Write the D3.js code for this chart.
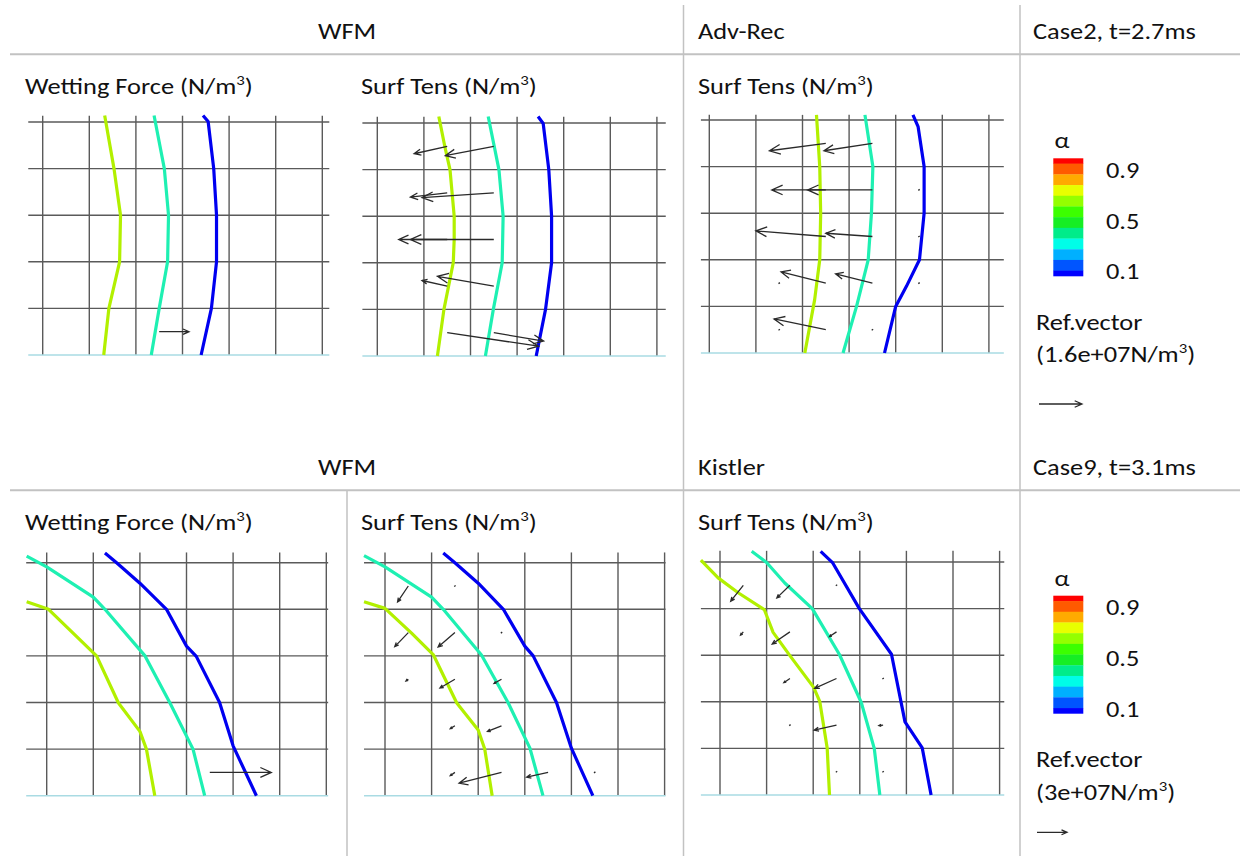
<!DOCTYPE html>
<html lang="en">
<head>
<meta charset="UTF-8">
<title>Wetting force and surface tension vectors</title>
<script src="https://d3js.org/d3.v7.min.js"></script>
<style>
  body { margin: 0; background: #fff; }
  svg text { font-family: Carlito, Calibri, "Open Sans", sans-serif; font-size: 22px; fill: #111; }
  .grid line { stroke: #5a5a5a; stroke-width: 1.4px; }
  .grid line.wall { stroke: #a9dbe3; stroke-width: 1.5px; }
  .iso { fill: none; stroke-width: 3.2px; stroke-linejoin: round; }
  .vec { fill: none; stroke: #2a2a2a; stroke-width: 1.3px; }
  .frame { stroke: #c2c2c2; }
</style>
</head>
<body>
<svg width="1240" height="856"></svg>
<script>
// ---- headers ----
const methodHeads = [["WFM", "Adv-Rec", "Case2, t=2.7ms"], ["WFM", "Kistler", "Case9, t=3.1ms"]];
const panelTitles = ["Wetting Force", "Surf Tens", "Surf Tens"];
const refLabels = ["(1.6e+07N/m", "(3e+07N/m"];

// ---- alpha colour bar ----
const alphaTicks = [0.9, 0.5, 0.1];
const alphaColors = ["#ff0000", "#ff5a00", "#ffaa00", "#e8ff00", "#94ff00", "#3cff00",
                     "#16ee24", "#00ec8a", "#00fde8", "#00b0ff", "#0055ff", "#0000ff"];

// iso-line colours (high, mid, low alpha)
const isoColors = ["#b2f000", "#1ef0b2", "#0000f0"];

// ---- iso-lines, in grid cells (x from first column, y up from the wall) ----
const tlIso = [
  [[1.33, 5.14], [1.53, 4], [1.67, 3], [1.65, 2], [1.42, 1], [1.31, 0]],
  [[2.39, 5.14], [2.61, 4], [2.70, 3], [2.68, 2], [2.50, 1], [2.33, 0]],
  [[3.44, 5.14], [3.55, 5.01], [3.67, 4], [3.73, 3], [3.73, 2], [3.62, 1], [3.40, 0]]
];
const tmIso = [
  [[1.32, 5.14], [1.45, 4.49], [1.56, 4], [1.65, 3], [1.65, 2.5], [1.63, 2], [1.43, 1], [1.29, 0]],
  [[2.38, 5.14], [2.61, 4], [2.70, 3], [2.68, 2], [2.49, 1], [2.32, 0]],
  [[3.45, 5.14], [3.56, 4.99], [3.68, 4], [3.74, 3], [3.74, 2], [3.61, 1], [3.41, 0]]
];
const trIso = [
  [[2.30, 5.11], [2.37, 4], [2.39, 3], [2.37, 2], [2.26, 1.14], [2.05, 0]],
  [[3.34, 5.11], [3.51, 4], [3.48, 3], [3.41, 2], [3.16, 1], [2.87, 0]],
  [[4.37, 5.11], [4.48, 4.86], [4.61, 4], [4.61, 3], [4.51, 2], [4.23, 1.43], [4.0, 1], [3.76, 0]]
];
const blIso = [
  [[-0.43, 4.16], [0.04, 4], [1.07, 3], [1.54, 1.99], [2.0, 1.38], [2.14, 1], [2.32, 0]],
  [[-0.43, 5.14], [0, 4.91], [1.0, 4.26], [1.25, 4], [2.11, 3], [2.64, 2], [3.14, 1], [3.39, 0]],
  [[1.25, 5.21], [1.5, 5], [2.0, 4.56], [2.57, 4], [3.0, 3.21], [3.21, 2.99], [3.71, 2], [4.0, 1.07], [4.5, 0]]
];
const bmIso = [
  [[-0.45, 4.16], [0, 4.02], [0.57, 3.49], [1.04, 3.02], [1.54, 1.99], [2.0, 1.41], [2.14, 1], [2.3, 0]],
  [[-0.45, 5.15], [0, 4.91], [1.0, 4.26], [1.25, 4], [2.07, 3.02], [2.64, 2], [3.11, 1.02], [3.39, 0]],
  [[1.25, 5.21], [1.5, 5], [2.0, 4.56], [2.54, 4], [3.0, 3.21], [3.18, 3], [3.68, 2], [4.0, 1.02], [4.46, 0]]
];
const brIso = [
  [[-0.41, 5.04], [-0.04, 4.66], [0.39, 4.34], [0.95, 3.98], [1.14, 3.49], [1.5, 2.99], [2.01, 2.31], [2.14, 2.01], [2.3, 1.01], [2.35, 0]],
  [[0.68, 5.23], [1.0, 4.99], [1.39, 4.55], [1.98, 4], [2.56, 3.02], [3.03, 1.99], [3.31, 1.0], [3.43, 0]],
  [[2.16, 5.23], [2.42, 4.98], [2.99, 4], [3.68, 3.02], [3.97, 1.57], [4.34, 1.01], [4.53, 0]]
];

// ---- force vectors: [x, y, dx, dy] in grid cells ----
const tlVec = [[2.5, 0.5, 0.64, 0]];
const tmVec = [
  [2.5, 4.5, -1.04, -0.2], [1.5, 4.5, -0.71, -0.16],
  [2.5, 3.5, -1.54, -0.1], [1.5, 3.5, -0.79, -0.09],
  [2.5, 2.5, -1.79, 0], [1.5, 2.5, -1.04, 0],
  [2.5, 1.5, -1.21, 0.21], [1.5, 1.5, -0.54, 0.12],
  [2.5, 0.5, 1.07, -0.18], [1.5, 0.5, 1.96, -0.29]
];
const trVec = [
  [3.5, 4.5, -1.04, -0.16], [2.5, 4.5, -1.21, -0.16],
  [3.5, 3.5, -1.39, 0], [2.5, 3.5, -1.16, 0],
  [3.5, 2.5, -1.0, 0.07], [2.5, 2.5, -1.5, 0.12],
  [3.5, 1.5, -0.79, 0.2], [2.5, 1.5, -0.96, 0.24],
  [2.5, 0.5, -1.11, 0.23],
  [1.5, 1.5, -0.02, 0.02], [1.5, 0.5, -0.01, -0.02], [4.5, 3.5, -0.01, 0],
  [4.5, 2.5, -0.01, 0], [4.5, 1.5, -0.01, 0], [3.5, 0.5, -0.01, 0]
];
const blVec = [[3.5, 0.5, 1.32, 0]];
const bmVec = [
  [0.5, 4.5, -0.23, -0.34], [1.5, 4.5, -0.01, 0.01],
  [0.5, 3.5, -0.29, -0.3], [1.5, 3.5, -0.36, -0.31], [2.5, 3.5, -0.01, 0.01],
  [0.5, 2.5, -0.05, -0.04], [1.5, 2.5, -0.32, -0.19], [2.5, 2.5, -0.16, -0.09],
  [1.5, 1.5, -0.1, -0.06], [2.5, 1.5, -0.3, -0.12],
  [1.5, 0.5, -0.1, -0.07], [2.5, 0.5, -0.91, -0.23], [3.5, 0.5, -0.46, -0.1], [4.5, 0.5, -0.01, 0.01]
];
const brVec = [
  [0.5, 4.5, -0.27, -0.34], [1.5, 4.5, -0.28, -0.27], [2.5, 4.5, -0.01, 0.01],
  [0.5, 3.5, -0.06, -0.07], [1.5, 3.5, -0.38, -0.26], [2.5, 3.5, -0.15, -0.1],
  [1.5, 2.5, -0.13, -0.09], [2.5, 2.5, -0.47, -0.21], [3.5, 2.5, -0.01, 0.01],
  [1.5, 1.5, -0.01, 0.01], [2.5, 1.5, -0.48, -0.11], [3.5, 1.5, -0.09, -0.01],
  [2.5, 0.5, -0.01, 0.01], [3.5, 0.5, -0.01, 0.01]
];

// ---- layout ----
const cell = 46.6;
const rowShift = 436;   // second table row offset
const stretch = 1.2;    // the screenshot text is wider than the font
const panels = [
  { x0: 42.7, y0: 122, l: -0.31, r: 6.15, t: 5.135, iso: tlIso, vec: tlVec },
  { x0: 377.3, y0: 123, l: -0.32, r: 6.19, t: 5.135, iso: tmIso, vec: tmVec },
  { x0: 709.3, y0: 120, l: -0.18, r: 6.32, t: 5.11, iso: trIso, vec: trVec },
  { x0: 46.7, y0: 562.7, l: -0.44, r: 6.04, t: 5.22, iso: blIso, vec: blVec },
  { x0: 385, y0: 562.7, l: -0.45, r: 6.02, t: 5.22, iso: bmIso, vec: bmVec },
  { x0: 720, y0: 562, l: -0.41, r: 6.1, t: 5.24, iso: brIso, vec: brVec }
];

const svg = d3.select("svg");

// table rules
const frame = svg.append("g").attr("class", "frame");
[54.3, 54.3 + rowShift].forEach(y =>
  frame.append("line").attr("x1", 10).attr("x2", 1240).attr("y1", y).attr("y2", y).attr("stroke-width", 2));
[[683.5, 5, 856], [1020, 5, 856], [347, 54.3 + rowShift, 856]].forEach(([x, a, b]) =>
  frame.append("line").attr("x1", x).attr("x2", x).attr("y1", a).attr("y2", b).attr("stroke-width", 1.5));

function label(g, x, y) {
  return g.append("text").attr("transform", `translate(${x},${y}) scale(${stretch},1)`);
}
// text with a superscript 3
function unitText(g, x, y, before, after) {
  const t = label(g, x, y);
  t.append("tspan").text(before);
  t.append("tspan").attr("dy", -9).style("font-size", "14px").text("3");
  t.append("tspan").attr("dy", 9).text(after);
  return t;
}

methodHeads.forEach((row, i) => {
  const dy = i * rowShift;
  label(svg, 347, 39.3 + dy).attr("text-anchor", "middle").text(row[0]);
  label(svg, 698, 39.3 + dy).text(row[1]);
  label(svg, 1033, 39.3 + dy).text(row[2]);
  [25, 361, 698].forEach((x, j) => unitText(svg, x, 94.3 + dy, panelTitles[j] + " (N/m", ")"));
});

function arrowPath(x1, y1, x2, y2, hMax) {
  const len = Math.hypot(x2 - x1, y2 - y1);
  if (len < 2) return `M${x1 - 0.7},${y1 + 0.5}L${x1 + 0.7},${y1 - 0.5}`;
  const h = Math.min(hMax || 12, Math.max(2.5, len * 0.22));
  const a = Math.atan2(y2 - y1, x2 - x1), w = 0.42;
  const p1 = [x2 - h * Math.cos(a - w), y2 - h * Math.sin(a - w)];
  const p2 = [x2 - h * Math.cos(a + w), y2 - h * Math.sin(a + w)];
  return `M${x1},${y1}L${x2},${y2}M${p1}L${x2},${y2}L${p2}`;
}

panels.forEach(p => {
  const x = d3.scaleLinear().domain([0, 6]).range([p.x0, p.x0 + 6 * cell]);
  const y = d3.scaleLinear().domain([0, 5]).range([p.y0 + 5 * cell, p.y0]);
  const g = svg.append("g");

  const grid = g.append("g").attr("class", "grid");
  grid.selectAll("line.v").data(d3.range(7)).join("line").attr("class", "v")
    .attr("x1", d => x(d)).attr("x2", d => x(d)).attr("y1", y(0)).attr("y2", y(p.t));
  grid.selectAll("line.h").data(d3.range(6)).join("line")
    .attr("class", d => d === 0 ? "h wall" : "h")
    .attr("x1", x(p.l)).attr("x2", x(p.r)).attr("y1", d => y(d)).attr("y2", d => y(d));

  const line = d3.line().x(d => x(d[0])).y(d => y(d[1]));
  g.selectAll("path.iso").data(p.iso).join("path").attr("class", "iso")
    .attr("stroke", (d, i) => isoColors[i]).attr("d", line);

  g.selectAll("path.vec").data(p.vec).join("path").attr("class", "vec")
    .attr("d", d => arrowPath(x(d[0]), y(d[1]), x(d[0] + d[2]), y(d[1] + d[3])));
});

// colour bar legends
const legends = [
  { top: 158.3, arrow: [1039, 1082], arrowY: 404, ref: refLabels[0] },
  { top: 158.3 + 437.4, arrow: [1037, 1067], arrowY: 832.3, ref: refLabels[1] }
];
const barH = 117.7;
legends.forEach((lg, i) => {
  const g = svg.append("g");
  const yb = d3.scaleLinear().domain([0, 11]).range([lg.top, lg.top + barH]);
  const edges = [0].concat(d3.range(alphaColors.length - 1).map(k => k + 0.5), [11]);
  g.selectAll("rect").data(alphaColors).join("rect")
    .attr("x", 1053.3).attr("width", 30)
    .attr("y", (d, k) => yb(edges[k])).attr("height", (d, k) => yb(edges[k + 1]) - yb(edges[k]) + 0.3)
    .attr("fill", d => d);
  label(g, 1062, lg.top - 10).attr("text-anchor", "middle").text("α");
  const yt = d3.scaleLinear().domain([0.1, 0.9]).range([lg.top + barH - 4.5, lg.top + 11.8]);
  alphaTicks.forEach(v =>
    label(g, 1106, yt(v)).attr("dy", "0.35em").text(d3.format(".1f")(v)));
  label(g, 1036, lg.top + 171.7).text("Ref.vector");
  unitText(g, 1036, lg.top + 204, lg.ref, ")");
  g.append("path").attr("class", "vec").attr("stroke", "#111").attr("stroke-width", 1.6)
    .attr("d", arrowPath(lg.arrow[0], lg.arrowY, lg.arrow[1], lg.arrowY, i ? 6 : 8));
});
</script>
</body>
</html>
